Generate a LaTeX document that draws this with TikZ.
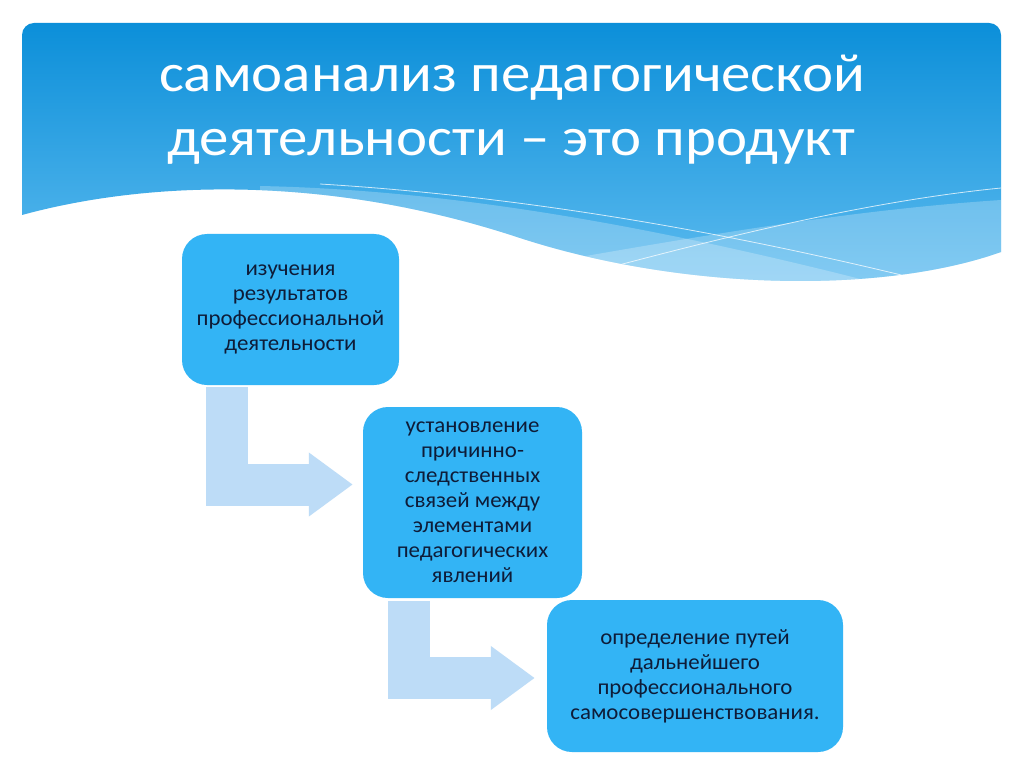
\documentclass[tikz,border=0pt]{standalone}
\usepackage{fontspec}
\setmainfont{Carlito}
\newfontfamily\titlefont[FakeStretch=1.09]{Carlito}
\newfontfamily\boxfont[FakeStretch=1.04]{Carlito}
\usetikzlibrary{arrows.meta,calc}
\definecolor{hdtop}{RGB}{12,143,217}
\definecolor{hdbot}{RGB}{96,189,240}
\definecolor{boxblue}{RGB}{51,180,245}
\definecolor{boxtext}{RGB}{14,28,56}
\definecolor{arrowblue}{RGB}{189,220,247}
\tikzset{
  stepbox/.style={draw=none, fill=boxblue, rounded corners=25pt, inner sep=0pt,
    align=center, text=boxtext, font=\boxfont\fontsize{22}{25}\selectfont},
  titleline/.style={anchor=base, text=white, inner sep=0pt,
    font=\titlefont\fontsize{54}{62}\selectfont},
  bentarrow/.style={draw=arrowblue, line width=42pt, line join=miter, line cap=butt,
    -{Triangle[length=44pt, width=61pt]}},
  thinline/.style={draw=white, draw opacity=0.75, line width=0.8pt}
}
\begin{document}
\begin{tikzpicture}[x=1pt,y=-1pt]
\useasboundingbox[fill=white] (0,0) rectangle (1024,767);
\def\headerpath{[rounded corners=12pt] (22,120) -- (22,23) -- (1001,23) -- (1001,120) [sharp corners] -- (1001,252)
  .. controls (880,295) and (680,290) .. (520,238)
  .. controls (330,175) and (150,180) .. (22,215) -- cycle}
\shade[top color=hdtop, bottom color=hdbot] \headerpath;
\begin{scope}
  \clip \headerpath;
  \fill[white, opacity=0.24] (260,186) .. controls (450,190) and (650,225) .. (880,284) -- (880,330) -- (260,330) -- cycle;
  \fill[white, opacity=0.24] (540,264) .. controls (700,236) and (850,210) .. (1001,200) -- (1001,330) -- (540,330) -- cycle;
  \draw[thinline] (320,184) .. controls (550,198) and (760,240) .. (930,282);
  \draw[thinline] (600,270) .. controls (750,230) and (880,200) .. (1001,188);
\end{scope}
\node[titleline] (t1) at (512,92) {самоанализ педагогической};
\node[titleline] (t2) at (511,156) {деятельности – это продукт};
\node[stepbox, minimum width=217pt, minimum height=151pt] (b1) at (290.5,309.5)
  {изучения\\результатов\\профессиональной\\деятельности};
\node[stepbox, minimum width=219pt, minimum height=191pt] (b2) at (472.5,502.5)
  {установление\\причинно-\\следственных\\связей между\\элементами\\педагогических\\явлений};
\node[stepbox, minimum width=296pt, minimum height=152pt] (b3) at (695,676)
  {определение путей\\дальнейшего\\профессионального\\самосовершенствования.};
\draw[bentarrow] ([xshift=45pt,yshift=-2pt]b1.south west) |- ([xshift=-10pt,yshift=18pt]b2.west);
\draw[bentarrow] ([xshift=46.5pt,yshift=-3pt]b2.south west) |- ([xshift=-12pt,yshift=-2pt]b3.west);
\end{tikzpicture}
\end{document}
